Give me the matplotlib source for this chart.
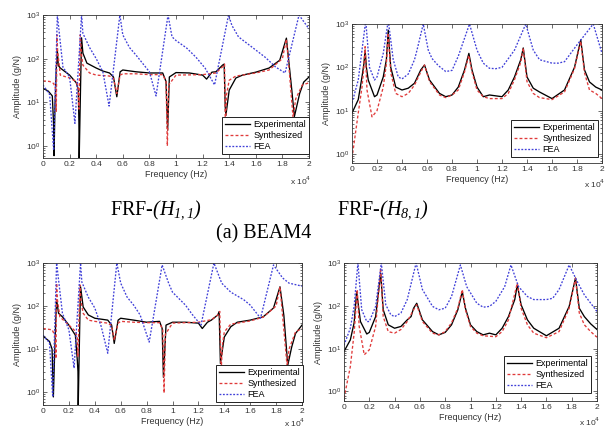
import matplotlib.pyplot as plt
from matplotlib.ticker import FormatStrFormatter, FixedLocator, LogLocator, NullFormatter

plt.rcParams['font.family'] = ['Liberation Sans', 'DejaVu Sans']
# caption math: italic for letters, digits and brackets alike
plt.rcParams['mathtext.rm'] = 'Liberation Serif:italic'
plt.rcParams['mathtext.it'] = 'Liberation Serif:italic'

# frequency in units of 1e4 Hz, amplitude in g/N

# ---- top left, FRF H1,1 ----
tl_exp_f = [0, 0.04, 0.07, 0.08, 0.083, 0.09, 0.1, 0.108, 0.115, 0.13, 0.2, 0.25, 0.265, 0.27, 0.272,
            0.285, 0.29, 0.3, 0.33, 0.4, 0.45, 0.5, 0.53, 0.555, 0.58, 0.6, 0.7, 0.8, 0.9, 0.925, 0.937,
            0.95, 1.0, 1.1, 1.2, 1.23, 1.27, 1.3, 1.35, 1.362, 1.37, 1.375, 1.4, 1.45, 1.5, 1.6, 1.7,
            1.78, 1.83, 1.84, 1.87, 1.89, 1.93, 1.96, 2.0]
tl_exp_a = [21, 18, 14, 3, 0.6, 8, 60, 150, 70, 61, 42, 28, 20, 3.5, 0.5,
            60, 300, 134, 79, 61, 52, 47, 38, 13.4, 50, 55, 50, 47, 47, 30, 2.3,
            38, 48, 47, 42, 34, 49, 50, 71, 75, 8, 5, 19, 36, 42, 49, 61,
            92, 295, 150, 20, 4.7, 16, 29, 38]
tl_syn_f = [0, 0.05, 0.08, 0.095, 0.1, 0.105, 0.11, 0.13, 0.2, 0.25, 0.265, 0.27, 0.28, 0.29, 0.3,
            0.35, 0.4, 0.5, 0.53, 0.555, 0.58, 0.6, 0.7, 0.8, 0.9, 0.925, 0.935, 0.945, 1.0, 1.2, 1.3,
            1.35, 1.365, 1.372, 1.38, 1.4, 1.45, 1.5, 1.6, 1.7, 1.8, 1.83, 1.85, 1.88, 1.9, 1.95, 2.0]
tl_syn_a = [31, 30, 27, 20, 6, 350, 150, 42, 36, 30, 20, 7, 350, 120, 71,
            47, 42, 40, 35, 16, 42, 45, 45, 43, 43, 30, 1.0, 25, 42, 43, 47,
            65, 75, 1.8, 15, 32, 40, 42, 47, 55, 100, 280, 60, 4.5, 12, 25, 28]
tl_fea_f = [0, 0.05, 0.08, 0.108, 0.15, 0.2, 0.24, 0.29, 0.3, 0.35, 0.4, 0.45, 0.497, 0.578, 0.6,
            0.65, 0.7, 0.8, 0.85, 0.94, 0.97, 1.0, 1.08, 1.15, 1.22, 1.29, 1.395, 1.42, 1.47, 1.57,
            1.67, 1.75, 1.82, 1.925, 2.0]
tl_fea_a = [25, 15, 0.8, 1000, 64, 38, 3.3, 1000, 380, 180, 100, 50, 8.2, 1000, 350,
            180, 120, 50, 14, 1000, 316, 260, 175, 108, 60, 25, 1000, 580, 315, 185,
            108, 64, 47, 1000, 480]

# ---- top right, FRF H8,1 ----
tr_exp_f = [0, 0.05, 0.08, 0.095, 0.105, 0.115, 0.13, 0.18, 0.2, 0.25, 0.275, 0.29, 0.3, 0.31, 0.35,
            0.4, 0.45, 0.5, 0.55, 0.58, 0.62, 0.7, 0.75, 0.8, 0.85, 0.9, 0.935, 0.96, 1.0, 1.05, 1.1,
            1.2, 1.25, 1.3, 1.35, 1.37, 1.4, 1.45, 1.5, 1.6, 1.7, 1.78, 1.83, 1.86, 1.9, 1.95, 2.0]
tr_exp_a = [8.8, 18, 60, 120, 250, 100, 51, 21, 23, 60, 150, 720, 250, 100, 35,
            30, 33, 43, 87, 113, 51, 25, 21, 23, 35, 87, 210, 87, 35, 21, 23,
            21, 30, 60, 150, 280, 60, 33, 27, 19, 30, 100, 430, 87, 46, 35, 30]
tr_syn_f = [0, 0.05, 0.08, 0.095, 0.105, 0.12, 0.16, 0.2, 0.25, 0.275, 0.29, 0.31, 0.35, 0.4, 0.45,
            0.5, 0.55, 0.58, 0.62, 0.7, 0.75, 0.8, 0.85, 0.9, 0.935, 0.96, 1.0, 1.05, 1.1, 1.2, 1.25,
            1.3, 1.35, 1.37, 1.4, 1.45, 1.5, 1.6, 1.7, 1.78, 1.83, 1.86, 1.9, 1.95, 2.0]
tr_syn_a = [0.8, 8.8, 35, 100, 300, 30, 7.2, 10, 35, 120, 620, 75, 25, 21, 25,
            39, 78, 113, 47, 23, 20, 23, 30, 78, 190, 78, 30, 21, 19, 19, 25,
            52, 130, 280, 47, 25, 20, 18, 27, 93, 400, 75, 30, 25, 19]
tr_fea_f = [0, 0.05, 0.08, 0.11, 0.14, 0.18, 0.2, 0.25, 0.29, 0.33, 0.37, 0.4, 0.45, 0.5, 0.52,
            0.57, 0.61, 0.64, 0.69, 0.75, 0.8, 0.85, 0.94, 1.0, 1.05, 1.1, 1.15, 1.2, 1.3, 1.39,
            1.45, 1.5, 1.6, 1.65, 1.7, 1.8, 1.93, 2.0]
tr_fea_a = [15, 51, 250, 1200, 100, 51, 60, 210, 1200, 150, 60, 54, 70, 150, 250,
            1000, 250, 160, 110, 80, 85, 180, 1000, 250, 125, 95, 93, 100, 250, 1000,
            250, 150, 125, 125, 135, 330, 1000, 210]

# ---- bottom left ----
bl_exp_f = [0, 0.05, 0.07, 0.08, 0.09, 0.1, 0.105, 0.12, 0.15, 0.2, 0.25, 0.265, 0.27, 0.272, 0.285,
            0.29, 0.31, 0.35, 0.4, 0.5, 0.53, 0.55, 0.58, 0.6, 0.7, 0.8, 0.9, 0.92, 0.93, 0.95, 1.0,
            1.1, 1.2, 1.23, 1.27, 1.3, 1.35, 1.36, 1.37, 1.4, 1.45, 1.5, 1.6, 1.7, 1.78, 1.83, 1.86,
            1.89, 1.92, 1.95, 2.0]
bl_exp_a = [20, 15, 10, 0.77, 8, 60, 140, 68, 56, 36, 21, 5.5, 3, 0.5, 60,
            280, 95, 62, 52, 47, 36, 13.5, 47, 52, 47, 42, 44, 30, 2.2, 36, 42,
            42, 40, 30, 42, 47, 62, 74, 4.6, 19, 33, 42, 47, 56, 90, 280, 60,
            4.2, 11, 23, 36]
bl_syn_f = [0, 0.07, 0.095, 0.1, 0.105, 0.11, 0.13, 0.2, 0.25, 0.265, 0.27, 0.285, 0.295, 0.31, 0.35,
            0.4, 0.5, 0.53, 0.55, 0.58, 0.6, 0.7, 0.8, 0.9, 0.925, 0.935, 0.945, 1.0, 1.2, 1.3, 1.35,
            1.365, 1.375, 1.385, 1.4, 1.45, 1.5, 1.6, 1.7, 1.8, 1.83, 1.85, 1.885, 1.9, 1.95, 2.0]
bl_syn_a = [30, 28, 20, 6, 340, 150, 56, 36, 26, 18, 6.5, 310, 120, 68, 47,
            44, 40, 35, 16, 40, 44, 42, 41, 41, 28, 0.95, 22, 40, 42, 48, 62,
            75, 2.8, 12, 25, 38, 40, 45, 55, 100, 280, 60, 4, 10, 25, 30]
bl_fea_f = [0, 0.05, 0.075, 0.105, 0.15, 0.2, 0.24, 0.29, 0.3, 0.35, 0.4, 0.45, 0.5, 0.57, 0.6,
            0.65, 0.7, 0.75, 0.82, 0.92, 0.97, 1.0, 1.1, 1.15, 1.22, 1.32, 1.38, 1.45, 1.55, 1.6,
            1.68, 1.78, 1.85, 1.9, 2.0]
bl_fea_a = [21, 14, 0.77, 1000, 68, 28, 3.6, 1000, 360, 160, 90, 33, 8, 1000, 340,
            160, 105, 62, 14.5, 900, 340, 210, 105, 65, 36, 1000, 340, 210, 140, 105,
            52, 900, 450, 340, 290]

# ---- bottom right ----
br_exp_f = [0, 0.05, 0.08, 0.1, 0.13, 0.18, 0.2, 0.25, 0.29, 0.31, 0.35, 0.4, 0.45, 0.5, 0.53,
            0.55, 0.575, 0.62, 0.7, 0.75, 0.8, 0.85, 0.9, 0.935, 0.96, 1.0, 1.05, 1.1, 1.15, 1.2,
            1.25, 1.3, 1.35, 1.37, 1.4, 1.45, 1.5, 1.6, 1.7, 1.78, 1.83, 1.86, 1.9, 1.95, 2.0]
br_exp_a = [8.6, 16, 40, 215, 43, 22, 24, 56, 580, 81, 36, 30, 33, 47, 56,
            88, 115, 47, 25, 21, 24, 36, 81, 215, 88, 36, 25, 21, 23, 21,
            30, 56, 140, 310, 106, 47, 30, 20, 30, 97, 445, 88, 56, 38, 28]
br_syn_f = [0, 0.05, 0.08, 0.105, 0.12, 0.16, 0.2, 0.25, 0.29, 0.31, 0.35, 0.4, 0.45, 0.5, 0.55,
            0.575, 0.62, 0.7, 0.75, 0.8, 0.85, 0.9, 0.935, 0.96, 1.0, 1.05, 1.1, 1.2, 1.25, 1.3,
            1.37, 1.4, 1.45, 1.5, 1.6, 1.7, 1.78, 1.83, 1.86, 1.9, 1.95, 2.0]
br_syn_a = [0.7, 3.8, 23, 240, 33, 7.2, 9.4, 33, 760, 56, 25, 23, 28, 43, 81,
            106, 43, 23, 21, 25, 40, 88, 240, 81, 33, 23, 20, 19, 25, 47,
            340, 88, 36, 23, 18, 25, 88, 445, 68, 36, 25, 18.5]
br_fea_f = [0, 0.05, 0.08, 0.11, 0.14, 0.18, 0.2, 0.25, 0.295, 0.33, 0.37, 0.4, 0.45, 0.5, 0.57,
            0.62, 0.7, 0.75, 0.8, 0.85, 0.92, 0.97, 1.05, 1.1, 1.15, 1.2, 1.27, 1.32, 1.38, 1.45,
            1.5, 1.6, 1.65, 1.7, 1.78, 1.85, 1.9, 2.0]
br_fea_a = [12, 30, 97, 1000, 81, 43, 43, 97, 1000, 106, 62, 56, 68, 140, 1000,
            240, 97, 81, 88, 165, 900, 280, 115, 93, 97, 127, 280, 900, 280, 165,
            140, 140, 150, 240, 900, 340, 180, 74]

x_ticks = [0, 0.2, 0.4, 0.6, 0.8, 1, 1.2, 1.4, 1.6, 1.8, 2]
series_names = ['Experimental', 'Synthesized', 'FEA']

W, H = 608, 428
fig = plt.figure(figsize=(W / 100, H / 100), dpi=100)


def panel(box, ymin, data, leg_anchor, mult_dy):
    l, t, r, b = box  # pixels from top-left
    w, h = r - l, b - t
    ax = fig.add_axes([l / W, 1 - b / H, w / W, h / H])
    (ef, ea), (sf, sa), (ff, fa) = data
    ax.plot(ef, ea, color='k', lw=0.95, label=series_names[0])
    ax.plot(sf, sa, color='#e03a3a', lw=0.95, ls=(0, (2.2, 1.6)), label=series_names[1])
    ax.plot(ff, fa, color='#3f3fd8', lw=0.95, ls=(0, (1.4, 1.2)), label=series_names[2])
    ax.set_yscale('log')
    ax.set_xlim(0, 2)
    ax.set_ylim(ymin, 1000)
    ax.xaxis.set_major_locator(FixedLocator(x_ticks))
    ax.xaxis.set_major_formatter(FormatStrFormatter('%g'))
    ax.yaxis.set_major_locator(FixedLocator([1, 10, 100, 1000]))
    ax.yaxis.set_minor_locator(LogLocator(base=10, subs=range(2, 10)))
    ax.yaxis.set_minor_formatter(NullFormatter())
    ax.tick_params(which='both', direction='in', top=True, right=True, labelsize=6,
                   width=0.5, colors='#333333', pad=2)
    ax.tick_params(which='major', length=3)
    ax.tick_params(which='minor', length=1.5)
    for s in ax.spines.values():
        s.set_linewidth(0.6)
        s.set_color('#333333')
    ax.set_ylabel('Amplitude (g/N)', fontsize=6.5, color='#333333')
    ax.yaxis.set_label_coords(-21 / w, 0.5)
    ax.set_xlabel('Frequency (Hz)', fontsize=6.5, color='#333333')
    ax.xaxis.set_label_coords(0.5, -12 / h)
    ax.text(0.93, -mult_dy / h, 'x 10$^4$', transform=ax.transAxes, fontsize=6,
            ha='left', va='center', color='#333333')
    leg = ax.legend(loc='lower right', bbox_to_anchor=leg_anchor, fontsize=6.5,
                    frameon=True, fancybox=False, framealpha=1, edgecolor='#222222',
                    handlelength=2.8, handletextpad=0.4, borderpad=0.3, labelspacing=0.25,
                    borderaxespad=0)
    leg.get_frame().set_linewidth(0.7)
    return ax


panel((43, 15, 309, 158), 0.53,
      [(tl_exp_f, tl_exp_a), (tl_syn_f, tl_syn_a), (tl_fea_f, tl_fea_a)], (1.0, 0.028), 23)
panel((352, 24, 602, 163), 0.62,
      [(tr_exp_f, tr_exp_a), (tr_syn_f, tr_syn_a), (tr_fea_f, tr_fea_a)], (0.984, 0.043), 21)
panel((43, 263, 302, 405), 0.5,
      [(bl_exp_f, bl_exp_a), (bl_syn_f, bl_syn_a), (bl_fea_f, bl_fea_a)], (1.004, 0.021), 18)
panel((344, 263, 597, 401), 0.6,
      [(br_exp_f, br_exp_a), (br_syn_f, br_syn_a), (br_fea_f, br_fea_a)], (0.976, 0.058), 21)

cap = dict(fontsize=14.5, family='Liberation Serif', math_fontfamily='custom',
           ha='center', va='center')
fig.text(156 / W, 1 - 210 / H, r'FRF-$(H_{1,1})$', **cap)
fig.text(383 / W, 1 - 210 / H, r'FRF-$(H_{8,1})$', **cap)
fig.text(264 / W, 1 - 234 / H, '(a) BEAM4', **cap)

fig.savefig('out.png', dpi=100)
